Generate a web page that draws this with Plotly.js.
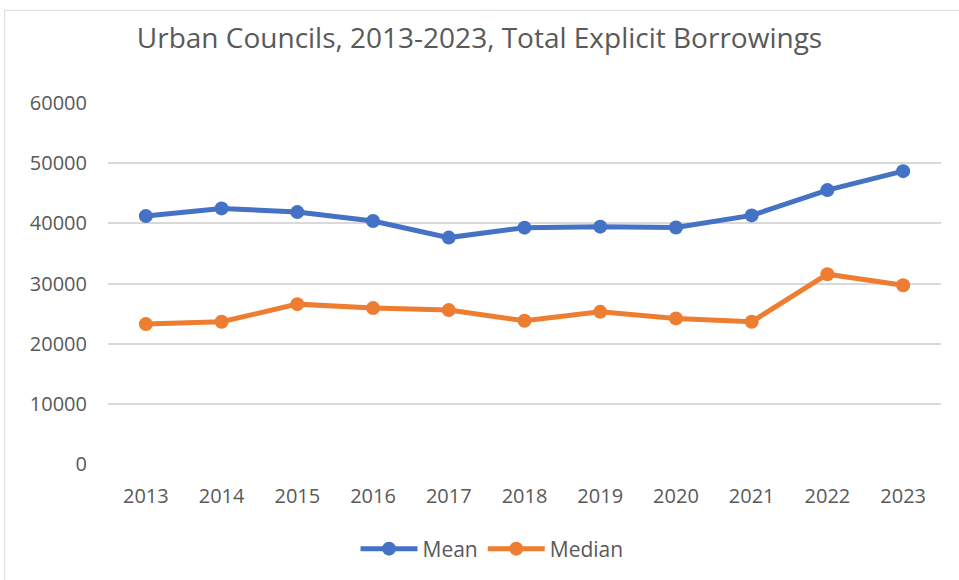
<!DOCTYPE html>
<html>
<head>
<meta charset="utf-8">
<script src="https://cdn.plot.ly/plotly-3.0.1.min.js"></script>
<style>html,body{margin:0;padding:0;background:#fff;}#chart{width:959px;height:580px;}</style>
</head>
<body>
<div id="chart"></div>
<script>
const years = ["2013","2014","2015","2016","2017","2018","2019","2020","2021","2022","2023"];
const meanValues = [41200, 42480, 41870, 40380, 37630, 39280, 39450, 39300, 41320, 45520, 48670];
const medianValues = [23250, 23640, 26570, 25910, 25580, 23800, 25290, 24200, 23640, 31540, 29720];
const yTicks = [0, 10000, 20000, 30000, 40000, 50000, 60000];

const traces = [
  {x: years, y: meanValues, name: "Mean", type: "scatter", mode: "lines+markers",
   line: {color: "#4472C4", width: 5}, marker: {color: "#4472C4", size: 14}},
  {x: years, y: medianValues, name: "Median", type: "scatter", mode: "lines+markers",
   line: {color: "#ED7D31", width: 5}, marker: {color: "#ED7D31", size: 14}}
];

const layout = {
  width: 959, height: 580,
  margin: {l: 108, r: 18, t: 103, b: 115},
  paper_bgcolor: "#ffffff", plot_bgcolor: "#ffffff",
  font: {family: "Open Sans, sans-serif", color: "#595959", size: 20},
  title: {text: "Urban Councils, 2013-2023, Total Explicit Borrowings",
          font: {size: 28, color: "#595959"}, x: 0.5, xanchor: "center", y: 0.935, yanchor: "middle"},
  xaxis: {type: "category", range: [-0.5, 10.5], showgrid: false, zeroline: false, showline: false,
          ticks: "", ticklabelstandoff: 18, tickfont: {size: 20, color: "#595959"}},
  yaxis: {range: [0, 60000], tickvals: yTicks, ticktext: yTicks.map(String),
          showgrid: true, gridcolor: "#d9d9d9", gridwidth: 2, zeroline: false, showline: false,
          ticks: "", ticklabelstandoff: 20, tickfont: {size: 20, color: "#595959"}},
  showlegend: true,
  legend: {orientation: "h", x: 0.461, xanchor: "center", y: -0.232, yanchor: "middle",
           font: {size: 21, color: "#595959"}, itemwidth: 57, traceorder: "normal"},
  shapes: [
    {type: "line", xref: "paper", yref: "paper", x0: -0.124, x1: 1.03, y0: 1.257, y1: 1.257,
     line: {color: "#d9d9d9", width: 1}},
    {type: "line", xref: "paper", yref: "paper", x0: -0.124, x1: -0.124, y0: 1.257, y1: -0.33,
     line: {color: "#d9d9d9", width: 1}}
  ]
};

Plotly.newPlot("chart", traces, layout, {displayModeBar: false, staticPlot: true});
</script>
</body>
</html>
